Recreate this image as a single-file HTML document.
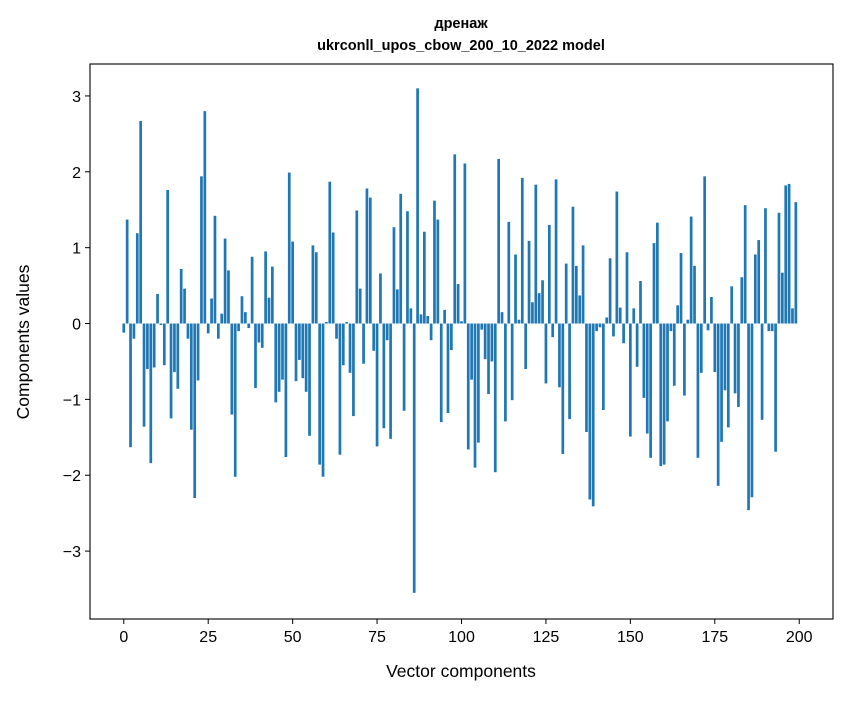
<!DOCTYPE html>
<html><head><meta charset="utf-8"><style>
body{margin:0;background:#fff;font-family:"Liberation Sans","DejaVu Sans",sans-serif}
</style></head><body>
<svg id="chart" width="847" height="696" xmlns="http://www.w3.org/2000/svg" font-family="Liberation Sans, DejaVu Sans, sans-serif">
<rect width="847" height="696" fill="#fff"/>
<text x="461" y="28" text-anchor="middle" font-size="14.5" font-weight="bold">дренаж</text>
<text x="461" y="50" text-anchor="middle" font-size="14.5" font-weight="bold">ukrconll_upos_cbow_200_10_2022 model</text>
<g id="bars"></g>
<g id="axes"></g>
<text x="461" y="677" text-anchor="middle" font-size="17.5">Vector components</text>
<text transform="translate(29,342) rotate(-90)" text-anchor="middle" font-size="17.5">Components values</text>
</svg>
<script>
const values = [-0.12,1.37,-1.63,-0.2,1.19,2.67,-1.36,-0.6,-1.84,-0.58,0.39,-0.02,-0.55,1.76,-1.25,-0.64,-0.86,0.72,0.46,-0.2,
-1.4,-2.3,-0.75,1.94,2.8,-0.13,0.33,1.42,-0.2,0.13,1.12,0.7,-1.2,-2.02,-0.1,0.36,0.15,-0.06,0.88,-0.85,
-0.25,-0.32,0.95,0.34,0.75,-1.04,-0.9,-0.74,-1.76,1.99,1.08,-0.76,-0.48,-0.72,-0.9,-1.48,1.03,0.94,-1.86,-2.02,
0.02,1.87,1.2,-0.2,-1.73,-0.55,0.02,-0.65,-1.22,1.49,0.46,-0.53,1.78,1.66,-0.36,-1.62,0.66,-1.38,-0.22,-1.52,
1.27,0.45,1.71,-1.15,1.48,0.2,-3.55,3.1,0.12,1.21,0.1,-0.22,1.62,1.37,-1.3,0.18,-1.18,-0.35,2.23,0.52,
0.03,2.11,-1.66,-0.74,-1.9,-1.57,-0.08,-0.47,-0.93,-0.5,-1.96,2.17,0.15,-1.29,1.34,-1.01,0.91,0.05,1.92,-0.6,
1.09,0.28,1.83,0.4,0.57,-0.79,1.3,-0.18,1.9,-0.84,-1.72,0.79,-1.26,1.54,0.76,0.37,1.03,-1.43,-2.32,-2.41,
-0.1,-0.05,-1.14,0.08,0.86,-0.17,1.74,0.21,-0.26,0.94,-1.49,0.2,-0.57,0.56,-0.98,-1.45,-1.77,1.06,1.33,-1.88,
-1.86,-1.29,-0.1,-0.82,0.24,0.93,-0.95,0.05,1.41,0.76,-1.77,-0.65,1.94,-0.09,0.35,-0.64,-2.14,-1.56,-0.88,-1.37,
0.49,-0.92,-1.1,0.61,1.56,-2.46,-2.29,0.91,1.1,-1.27,1.52,-0.1,-0.1,-1.69,1.46,0.67,1.82,1.84,0.2,1.6];
const xTicks = [0,25,50,75,100,125,150,175,200];
const yTicks = [-3,-2,-1,0,1,2,3];
const yTickLabels = ["−3","−2","−1","0","1","2","3"];
const L=90,T=64,R=833,B=619, xmin=-10,xmax=210, ymin=-3.895,ymax=3.421;
const sx=v=>L+(v-xmin)/(xmax-xmin)*(R-L);
const sy=v=>T+(ymax-v)/(ymax-ymin)*(B-T);
const NS="http://www.w3.org/2000/svg";
const bars=document.getElementById('bars');
values.forEach((v,i)=>{
  const r=document.createElementNS(NS,'rect');
  const x0=sx(i-0.4), x1=sx(i+0.4), y0=sy(Math.max(v,0)), y1=sy(Math.min(v,0));
  r.setAttribute('x',x0);r.setAttribute('width',x1-x0);
  r.setAttribute('y',y0);r.setAttribute('height',Math.max(y1-y0,0.3));
  r.setAttribute('fill','#1f77b4');
  
  
  bars.appendChild(r);
});
const ax=document.getElementById('axes');
const frame=document.createElementNS(NS,'rect');
frame.setAttribute('x',L);frame.setAttribute('y',T);frame.setAttribute('width',R-L);frame.setAttribute('height',B-T);
frame.setAttribute('fill','none');frame.setAttribute('stroke','#000');frame.setAttribute('stroke-width','1.1');


ax.appendChild(frame);
xTicks.forEach(t=>{
  const x=sx(t);
  const l=document.createElementNS(NS,'line');
  l.setAttribute('x1',x);l.setAttribute('x2',x);l.setAttribute('y1',B);l.setAttribute('y2',B+5);l.setAttribute('stroke','#000');
  
  
  ax.appendChild(l);
  const tx=document.createElementNS(NS,'text');
  tx.setAttribute('x',x);tx.setAttribute('y',B+23);tx.setAttribute('text-anchor','middle');tx.setAttribute('font-size','16');
  tx.textContent=t;
  
  
  ax.appendChild(tx);
});
yTicks.forEach((t,i)=>{
  const y=sy(t);
  const l=document.createElementNS(NS,'line');
  l.setAttribute('x1',L-5);l.setAttribute('x2',L);l.setAttribute('y1',y);l.setAttribute('y2',y);l.setAttribute('stroke','#000');
  
  
  ax.appendChild(l);
  const tx=document.createElementNS(NS,'text');
  tx.setAttribute('x',L-9);tx.setAttribute('y',y+6);tx.setAttribute('text-anchor','end');tx.setAttribute('font-size','16');
  tx.textContent=yTickLabels[i];
  
  
  ax.appendChild(tx);
});
</script>
</body></html>
